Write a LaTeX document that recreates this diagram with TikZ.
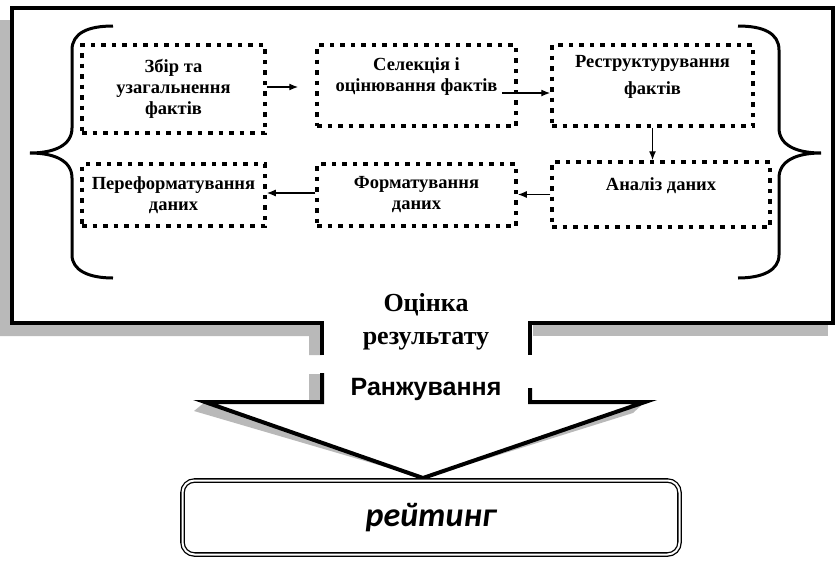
\documentclass[tikz,border=0pt]{standalone}
\usepackage{fontspec}
\setmainfont{Liberation Serif}
\newfontfamily\arialfont{Liberation Sans}
\newfontfamily\carlitofont{Carlito}
\usetikzlibrary{arrows.meta}
\begin{document}
\begin{tikzpicture}[x=1pt, y=-1pt,
    box/.style={draw, line width=3.5pt, dash pattern=on 4.5pt off 6pt, align=center, inner sep=0pt,
        font=\bfseries\fontsize{18.5}{21}\selectfont},
    arr/.style={-{Latex[length=9pt,width=7pt]}, line width=1.3pt},
    frame/.style={line width=4pt},
    shad/.style={fill=gray!55},
    brace/.style={line width=3pt}]
    \useasboundingbox (0,0) rectangle (840,560);

    % shadow of the callout
    \fill[shad] (0,20) -- (12,20) -- (12,323) -- (322,323) -- (322,355) -- (309,355) -- (309,336) -- (0,336) -- cycle;
    \fill[shad] (309,374) rectangle (322,400);
    \fill[shad] (533,323) rectangle (828,336);
    \fill[shad] (205,402) -- (423,478) -- (194,411) -- cycle;
    \fill[shad] (645,402) -- (425,478) -- (633,413) -- cycle;

    % callout outline
    \draw[frame] (322,355) -- (322,323) -- (12,323) -- (12,8) -- (833,8) -- (833,323) -- (530,323) -- (530,355);
    \draw[frame] (322,373) -- (322,402) -- (205,402) -- (423,478) -- (645,402) -- (530,402) -- (530,388);

    % braces
    \draw[brace] (113,26) .. controls (88,26) and (72,33) .. (72,50) -- (72,128)
        .. controls (72,145) and (55,153) .. (30,153) .. controls (55,153) and (72,161) .. (72,178)
        -- (72,255) .. controls (72,270) and (88,278) .. (113,278);
    \draw[brace] (738,26) .. controls (763,26) and (779,33) .. (779,50) -- (779,128)
        .. controls (779,145) and (796,153) .. (821,153) .. controls (796,153) and (779,161) .. (779,178)
        -- (779,255) .. controls (779,270) and (763,278) .. (738,278);

    % steps
    \node[box, minimum width=183pt, minimum height=88pt] (zbir) at (173.5,89) {Збір та\\узагальнення\\фактів};
    \node[box, minimum width=199pt, minimum height=81pt] (selek) at (416.5,85.5) {Селекція і\\оцінювання фактів\\\mbox{}};
    \node[box, minimum width=201pt, minimum height=81pt] (restr) at (652.5,85.5) {Реструктурування\\[6pt]фактів\\\mbox{}};
    \node[box, minimum width=218pt, minimum height=65pt] (analiz) at (661,194.5) {Аналіз даних\\\mbox{}};
    \node[box, minimum width=199pt, minimum height=62pt] (format) at (416.5,195) {Форматування\\даних};
    \node[box, minimum width=183pt, minimum height=62pt] (pereform) at (173.5,195) {Переформатування\\даних};

    \draw[arr, shorten >=17pt] ([yshift=2pt]zbir.east) -- ([yshift=2pt]zbir.east -| selek.west);
    \draw[arr] ([xshift=-16pt,yshift=-7.5pt]selek.east) -- ([yshift=-7.5pt]restr.west);
    \draw[arr] (restr.south) -- (restr.south |- analiz.north);
    \draw[arr] (analiz.west) -- (analiz.west -| format.east);
    \draw[arr] ([yshift=2pt]format.west) -- ([yshift=2pt]format.west -| pereform.east);

    % labels of the callout
    \node[align=center, font=\bfseries\fontsize{26}{33}\selectfont] (ocinka) at (426,322) {Оцінка\\результату};
    \node[font=\arialfont\bfseries\fontsize{25}{30}\selectfont] (ranzh) at (426,389) {Ранжування};

    % result
    \node[draw, line width=1.3pt, double, double distance=2pt, rounded corners=12pt,
        minimum width=497pt, minimum height=74pt,
        font=\carlitofont\bfseries\itshape\fontsize{34}{40}\selectfont] (reiting) at (431,517.5) {рейтинг};
\end{tikzpicture}
\end{document}
